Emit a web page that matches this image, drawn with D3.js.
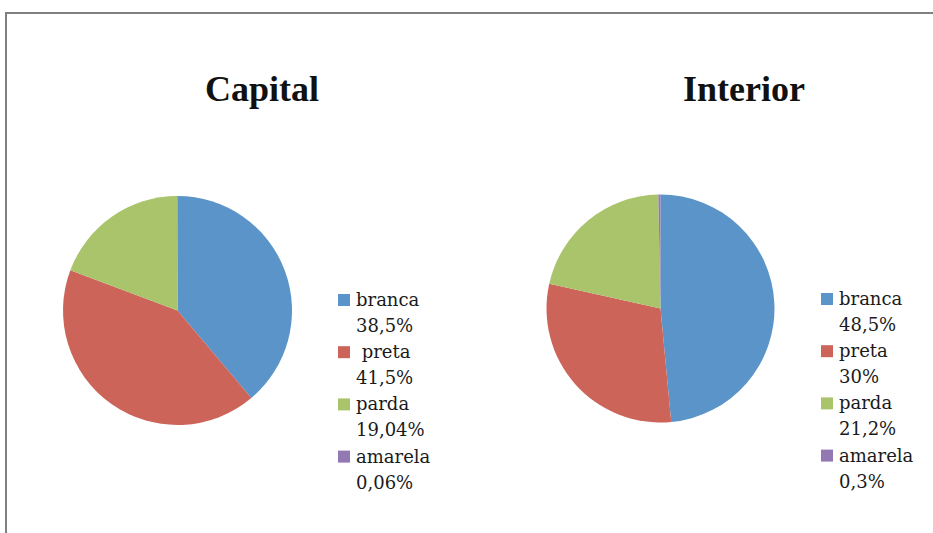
<!DOCTYPE html>
<html>
<head>
<meta charset="utf-8">
<script src="https://cdn.jsdelivr.net/npm/d3@7"></script>
<style>
  body { margin: 0; background: #fff; }
  text { white-space: pre; }
</style>
</head>
<body>
<div class="chart"></div>
<script>
// data
var categories = ["branca", "preta", "parda", "amarela"];
var capitalValues = [38.5, 41.5, 19.04, 0.06];
var interiorValues = [48.5, 30, 21.2, 0.3];
var capitalNames = ["branca", " preta", "parda", "amarela"];
var capitalLabels = ["38,5%", "41,5%", "19,04%", "0,06%"];
var interiorLabels = ["48,5%", "30%", "21,2%", "0,3%"];
var colors = ["#5b94c8", "#cc645a", "#a9c46b", "#9379b4"];

var W = 933, H = 533;

var svg = d3.select(".chart").append("svg")
    .attr("width", W)
    .attr("height", H);

// frame lines (top + left)
svg.append("line").attr("x1", 5).attr("x2", W).attr("y1", 13).attr("y2", 13)
    .attr("stroke", "#808080").attr("stroke-width", 2);
svg.append("line").attr("x1", 6).attr("x2", 6).attr("y1", 12).attr("y2", H)
    .attr("stroke", "#808080").attr("stroke-width", 2);

var color = d3.scaleOrdinal().domain(categories).range(colors);

var pie = d3.pie().sort(null).value(function(d) { return d.value; });

var panels = [
  { title: "Capital", values: capitalValues, names: capitalNames, labels: capitalLabels,
    cx: 177.5, cy: 310.5, r: 114.5, tx: 262, lx: 338, ly: 306 },
  { title: "Interior", values: interiorValues, names: categories, labels: interiorLabels,
    cx: 660.5, cy: 308.5, r: 114, tx: 744, lx: 821, ly: 305 }
];

panels.forEach(function(p) {
  var rows = categories.map(function(c, i) {
    return { cat: c, value: p.values[i], name: p.names[i], label: p.labels[i] };
  });

  svg.append("text")
      .attr("x", p.tx)
      .attr("y", 101)
      .attr("text-anchor", "middle")
      .attr("font-family", "'Liberation Serif', serif")
      .attr("font-weight", "bold")
      .attr("font-size", 36)
      .attr("fill", "#111")
      .text(p.title);

  var arc = d3.arc().innerRadius(0).outerRadius(p.r);

  var g = svg.append("g")
      .attr("transform", "translate(" + p.cx + "," + p.cy + ")");

  g.selectAll("path")
      .data(pie(rows))
      .enter().append("path")
      .attr("d", arc)
      .attr("fill", function(d) { return color(d.data.cat); });

  // legend
  var step = 52.2;
  var leg = svg.append("g")
      .attr("transform", "translate(" + p.lx + "," + p.ly + ")");

  var item = leg.selectAll("g")
      .data(rows)
      .enter().append("g")
      .attr("transform", function(d, i) { return "translate(0," + (i * step) + ")"; });

  item.append("rect")
      .attr("x", 0)
      .attr("y", -12)
      .attr("width", 12)
      .attr("height", 12)
      .attr("fill", function(d) { return color(d.cat); });

  item.append("text")
      .attr("x", 18)
      .attr("y", 0)
      .attr("font-family", "'DejaVu Serif', serif")
      .attr("font-size", 18)
      .attr("fill", "#1a1a1a")
      .text(function(d) { return d.name; });

  item.append("text")
      .attr("x", 18)
      .attr("y", 26)
      .attr("font-family", "'DejaVu Serif', serif")
      .attr("font-size", 18)
      .attr("fill", "#1a1a1a")
      .text(function(d) { return d.label; });
});
</script>
</body>
</html>
